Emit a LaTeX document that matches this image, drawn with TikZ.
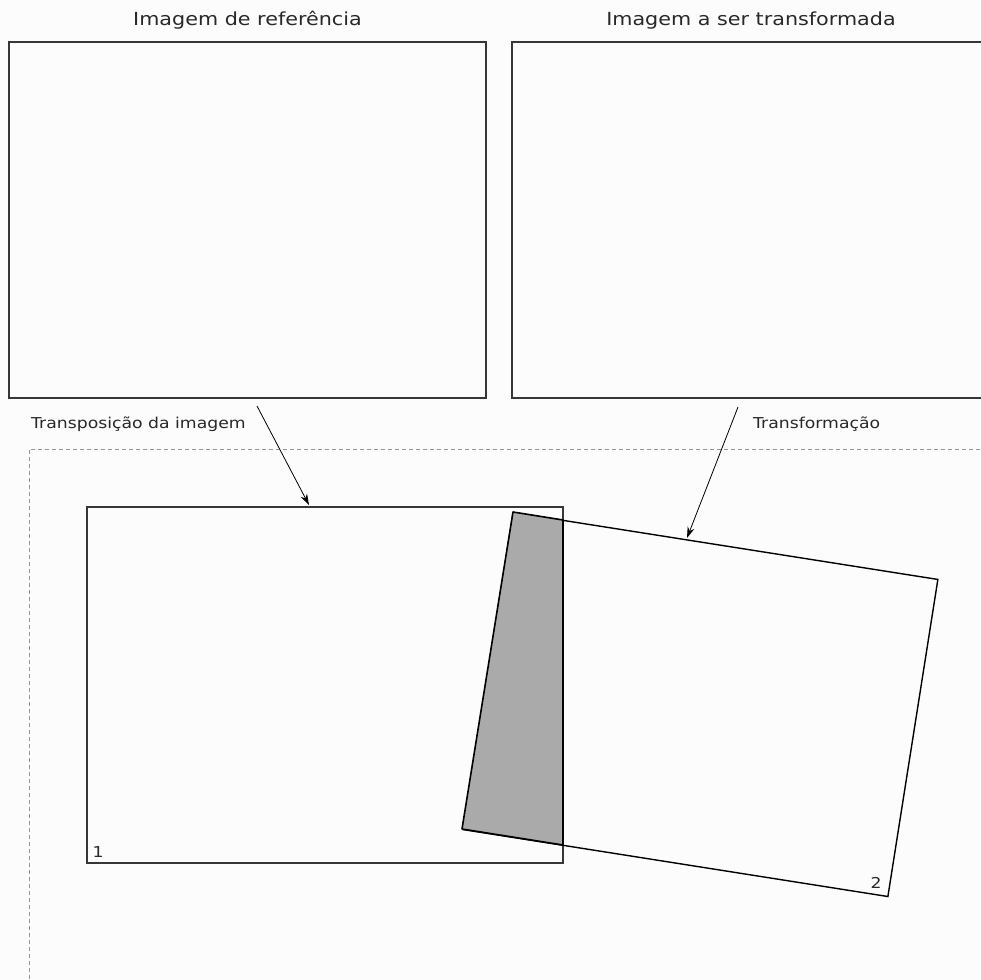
\documentclass[tikz,border=0pt]{standalone}
\usepackage{fontspec}
\setmainfont{DejaVu Sans}[FakeStretch=1.15]
\usetikzlibrary{arrows.meta}
\definecolor{linedark}{RGB}{55,55,55}
\definecolor{textcol}{RGB}{40,40,40}
\definecolor{dashcol}{RGB}{150,150,150}
\definecolor{shade}{RGB}{170,170,170}
\begin{document}
\begin{tikzpicture}[x=1pt,y=-1pt,
  imgbox/.style={draw=linedark,line width=1.6pt,rectangle,inner sep=0pt,minimum width=477pt,minimum height=356pt},
  title/.style={text=textcol,font=\fontsize{18}{20}\selectfont,inner sep=0pt,anchor=base},
  lbl/.style={text=textcol,font=\fontsize{15}{17}\selectfont,inner sep=0pt,anchor=base west},
  num/.style={text=textcol,font=\fontsize{15}{17}\selectfont,inner sep=0pt,anchor=base},
  conn/.style={draw=black,line width=0.8pt,-{Stealth[length=11pt,width=7pt]}}]
\useasboundingbox (0,0) rectangle (980,980);
\fill[white!99!black] (0,0) rectangle (980,980);
% top boxes
\node[imgbox] (ref) at (247.5,220) {};
\node[imgbox] (trg) at (750.5,220) {};
\node[title] (tref) at (247.5,25) {Imagem de referência};
\node[title] (ttrg) at (751,25) {Imagem a ser transformada};
% dashed area
\draw[dashcol,line width=0.8pt,dash pattern=on 4pt off 3pt] (29,1000) -- (29,449) -- (1000,449);
% labels
\node[lbl] (ltr) at (31,428) {Transposição da imagem};
\node[lbl] (lts) at (753,428) {Transformação};
% rectangle 1
\node[draw=linedark,line width=1.6pt,rectangle,inner sep=0pt,minimum width=476pt,minimum height=356pt] (r1) at (325,685) {};
% rotated rectangle 2
\node[draw=black,line width=1.4pt,rectangle,inner sep=0pt,minimum width=430pt,minimum height=321pt,rotate=-8.96] (r2) at (700.5,704.5) {};
% overlap
\filldraw[fill=shade,draw=black,line width=1.6pt,line join=round] (513,512) -- (563,520) -- (563,845) -- (462,829) -- cycle;
% numbers
\node[num] (n1) at (98,857) {1};
\node[num] (n2) at (876,888) {2};
% arrows
\coordinate (a1s) at (257,406);
\coordinate (a1e) at (309,505);
\coordinate (a2s) at (738,407);
\coordinate (a2e) at (687,538);
\draw[conn] (a1s) -- (a1e);
\draw[conn] (a2s) -- (a2e);
\end{tikzpicture}
\end{document}
